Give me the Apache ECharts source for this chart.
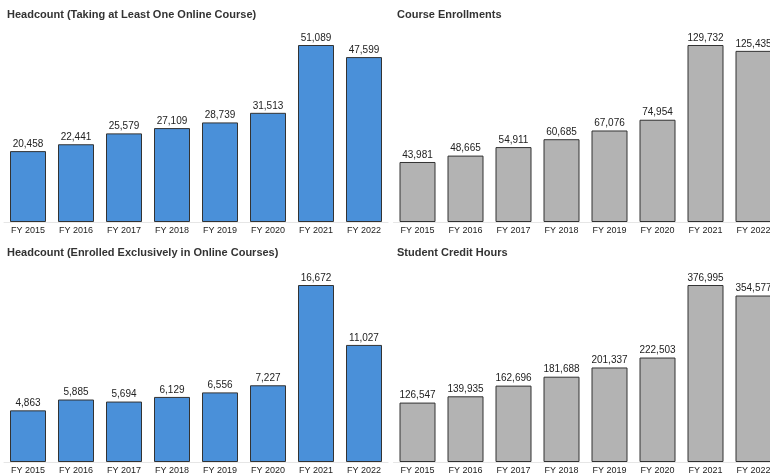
<!DOCTYPE html>
<html lang="en">
<head>
  <meta charset="UTF-8">
  <title>Online course metrics</title>
  <style>
    * { margin: 0; padding: 0; }
    body { background: #fff; overflow: hidden; }
  </style>
  <script src="https://cdn.jsdelivr.net/npm/echarts@6/dist/echarts.min.js"></script>
</head>
<body>
  <!-- a bit wider than the window so the right column runs off the edge like the original -->
  <div id="chart" style="width: 780px; height: 476px;"></div>
  <script>
    const chart = echarts.init(document.getElementById('chart'))

    // fiscal years shared by all four panels
    const years = ['FY 2015', 'FY 2016', 'FY 2017', 'FY 2018', 'FY 2019', 'FY 2020', 'FY 2021', 'FY 2022']

    const headcountAny = [20458, 22441, 25579, 27109, 28739, 31513, 51089, 47599]
    const enrollments = [43981, 48665, 54911, 60685, 67076, 74954, 129732, 125435]
    const headcountOnly = [4863, 5885, 5694, 6129, 6556, 7227, 16672, 11027]
    const creditHours = [126547, 139935, 162696, 181688, 201337, 222503, 376995, 354577]

    const titles = [
      'Headcount (Taking at Least One Online Course)',
      'Course Enrollments',
      'Headcount (Enrolled Exclusively in Online Courses)',
      'Student Credit Hours'
    ]

    const BLUE = '#4a90d9'
    const GREY = '#b3b3b3'

    const panels = [
      { data: headcountAny, color: BLUE, grid: { left: 4, width: 384, top: 30, height: 192 }, title: [7, 9] },
      { data: enrollments, color: GREY, grid: { left: 393.5, width: 384, top: 30, height: 192 }, title: [397, 9] },
      { data: headcountOnly, color: BLUE, grid: { left: 4, width: 384, top: 270, height: 192 }, title: [7, 247] },
      { data: creditHours, color: GREY, grid: { left: 393.5, width: 384, top: 270, height: 192 }, title: [397, 247] }
    ]

    const option = {
      backgroundColor: '#fff',
      animation: false,
      title: panels.map((p, i) => ({
        text: titles[i],
        left: p.title[0],
        top: p.title[1],
        padding: 0,
        textStyle: { fontFamily: 'Liberation Sans', fontSize: 11, fontWeight: 'bold', color: '#333' }
      })),
      grid: panels.map(p => p.grid),
      xAxis: panels.map((p, i) => ({
        type: 'category',
        gridIndex: i,
        data: years,
        axisLine: { lineStyle: { color: '#e6e6e6' } },
        axisTick: { show: false },
        axisLabel: { color: '#222', fontFamily: 'Liberation Sans', fontSize: 9, margin: 4 }
      })),
      yAxis: panels.map((p, i) => ({
        type: 'value',
        gridIndex: i,
        min: 0,
        max: v => v.max * 192 / 177,
        show: false,
        splitLine: { show: false }
      })),
      series: panels.map((p, i) => ({
        type: 'bar',
        xAxisIndex: i,
        yAxisIndex: i,
        data: p.data,
        barWidth: 36,
        itemStyle: { color: p.color, borderColor: '#333', borderWidth: 1 },
        label: {
          show: true,
          position: 'top',
          distance: 2,
          color: '#222',
          fontFamily: 'Liberation Sans',
          fontSize: 10,
          formatter: d => d.value.toLocaleString('en-US')
        }
      }))
    }

    chart.setOption(option)
  </script>
</body>
</html>
